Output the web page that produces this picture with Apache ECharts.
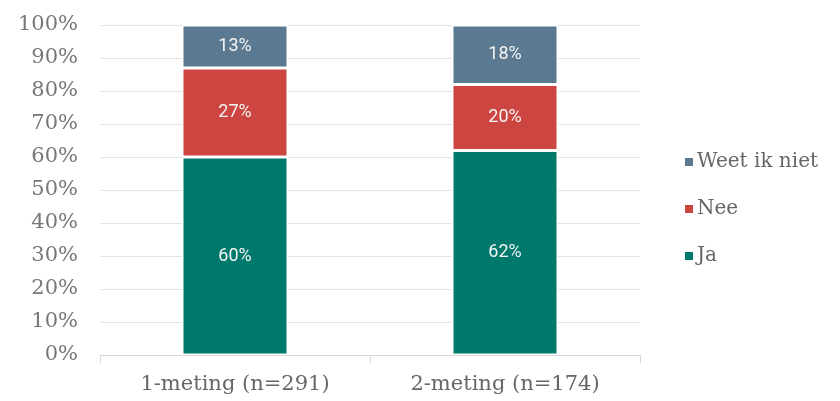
<!DOCTYPE html>
<html>
<head>
<meta charset="utf-8">
<script src="https://cdn.jsdelivr.net/npm/echarts@6/dist/echarts.min.js"></script>
<style>
  html, body { margin: 0; padding: 0; background: #fff; }
  #chart { width: 840px; height: 401px; }
</style>
</head>
<body>
<div id="chart"></div>
<script>
// data
var categories = ['1-meting (n=291)', '2-meting (n=174)'];
var ja = [60, 62];
var nee = [27, 20];
var weetNiet = [13, 18];

var serif = 'DejaVu Serif';
var chart = echarts.init(document.getElementById('chart'));

function barSeries(name, data, color) {
  return {
    name: name,
    type: 'bar',
    stack: 'totaal',
    barWidth: 106,
    data: data,
    itemStyle: { color: color, borderColor: '#fff', borderWidth: 1.5 },
    label: {
      show: true,
      position: 'inside',
      formatter: '{c}%',
      color: '#f4f4f4',
      fontFamily: 'Roboto',
      fontSize: 18
    }
  };
}

var option = {
  animation: false,
  grid: { left: 100, right: 200, top: 25, bottom: 46 },
  legend: {
    orient: 'vertical',
    left: 678,
    top: 147,
    itemWidth: 10,
    itemHeight: 10,
    itemGap: 27,
    icon: 'rect',
    data: ['Weet ik niet', 'Nee', 'Ja'],
    textStyle: { color: '#666', fontFamily: serif, fontSize: 20, padding: [0, 0, 0, -2] }
  },
  xAxis: {
    type: 'category',
    data: categories,
    axisLine: { lineStyle: { color: '#d9d9d9' } },
    axisTick: { show: true, length: 8, lineStyle: { color: '#d9d9d9' } },
    axisLabel: { color: '#666', fontFamily: serif, fontSize: 21, margin: 19 }
  },
  yAxis: {
    type: 'value',
    min: 0,
    max: 100,
    interval: 10,
    axisLabel: { formatter: '{value}%', color: '#777', fontFamily: serif, fontSize: 21, margin: 22 },
    splitLine: { lineStyle: { color: '#e3e3e3' } },
    axisLine: { show: false },
    axisTick: { show: false }
  },
  series: [
    barSeries('Ja', ja, '#00796d'),
    barSeries('Nee', nee, '#cc4541'),
    barSeries('Weet ik niet', weetNiet, '#5b7a91')
  ]
};

chart.setOption(option);
</script>
</body>
</html>
